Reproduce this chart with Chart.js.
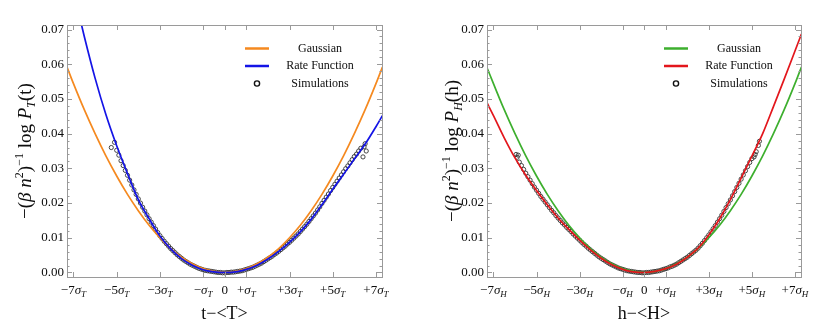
<!DOCTYPE html>
<html>
<head>
<meta charset="utf-8">
<script src="https://cdn.jsdelivr.net/npm/chart.js@4.4.1/dist/chart.umd.min.js"></script>
<style>
  body { margin: 0; background: #fff; width: 822px; height: 329px; overflow: hidden; }
  .box { position: absolute; top: 0; width: 411px; height: 329px; }
</style>
</head>
<body>
<div class="box" style="left:0"><canvas id="chartT" width="411" height="329"></canvas></div>
<div class="box" style="left:411px"><canvas id="chartH" width="411" height="329"></canvas></div>
<script>
// x in units of sigma
const curveX = [-7.3, -7, -6.5, -6, -5.5, -5, -4.5, -4, -3.5, -3, -2.5, -2, -1.5, -1, -0.5, 0,
                0.5, 1, 1.5, 2, 2.5, 3, 3.5, 4, 4.5, 5, 5.5, 6, 6.5, 7, 7.3];

const gaussT = [0.0592, 0.0544, 0.0469, 0.0400, 0.0336, 0.0278, 0.0225, 0.0178, 0.0136, 0.0100, 0.0069, 0.0044, 0.0025, 0.0011, 0.0003, 0,
                0.0003, 0.0011, 0.0025, 0.0044, 0.0069, 0.0100, 0.0136, 0.0178, 0.0225, 0.0278, 0.0336, 0.0400, 0.0469, 0.0544, 0.0592];
const rateT  = [0.0890, 0.0810, 0.0680, 0.0560, 0.0455, 0.0365, 0.0285, 0.0210, 0.0155, 0.0105, 0.0068, 0.0040, 0.0021, 0.0008, 0.0002, 0,
                0.0002, 0.0009, 0.0021, 0.0039, 0.0061, 0.0087, 0.0117, 0.0153, 0.0195, 0.0240, 0.0283, 0.0327, 0.0370, 0.0420, 0.0452];

const gaussH = [0.0590, 0.0544, 0.0469, 0.0400, 0.0336, 0.0278, 0.0225, 0.0178, 0.0136, 0.0100, 0.0069, 0.0044, 0.0025, 0.0011, 0.0003, 0,
                0.0003, 0.0011, 0.0025, 0.0044, 0.0069, 0.0100, 0.0136, 0.0178, 0.0225, 0.0278, 0.0336, 0.0400, 0.0469, 0.0544, 0.0592];
const rateH  = [0.0489, 0.0452, 0.0388, 0.0330, 0.0280, 0.0236, 0.0195, 0.0157, 0.0124, 0.0093, 0.0065, 0.0041, 0.0022, 0.0009, 0.0002, 0,
                0.0003, 0.0011, 0.0024, 0.0044, 0.0070, 0.0108, 0.0155, 0.0210, 0.0272, 0.0335, 0.0400, 0.0478, 0.0557, 0.0638, 0.0687];

// simulation points, left panel
const simTX = [-5.25, -5.1, -5.0, -4.9, -4.8, -4.7, -4.6, -4.5, -4.4, -4.3, -4.2, -4.1, -4.0, -3.9, -3.8, -3.7, -3.6, -3.5, -3.4, -3.3, -3.2, -3.1,
               -3.0, -2.9, -2.8, -2.7, -2.6, -2.5, -2.4, -2.3, -2.2, -2.1, -2.0, -1.9, -1.8, -1.7, -1.6, -1.5, -1.4, -1.3, -1.2, -1.1,
               -1.0, -0.9, -0.8, -0.7, -0.6, -0.5, -0.4, -0.3, -0.2, -0.1, 0.0, 0.1, 0.2, 0.3, 0.4, 0.5, 0.6, 0.7, 0.8, 0.9,
               1.0, 1.1, 1.2, 1.3, 1.4, 1.5, 1.6, 1.7, 1.8, 1.9, 2.0, 2.1, 2.2, 2.3, 2.4, 2.5, 2.6, 2.7, 2.8, 2.9,
               3.0, 3.1, 3.2, 3.3, 3.4, 3.5, 3.6, 3.7, 3.8, 3.9, 4.0, 4.1, 4.2, 4.3, 4.4, 4.5, 4.6, 4.7, 4.8, 4.9,
               5.0, 5.1, 5.2, 5.3, 5.4, 5.5, 5.6, 5.7, 5.8, 5.9, 6.0, 6.1, 6.2, 6.3, 6.4, 6.45, 6.5, 6.55];
const simTY = [0.0360, 0.0375, 0.0352, 0.0338, 0.0322, 0.0308, 0.0294, 0.0280, 0.0266, 0.0252, 0.0238, 0.0225, 0.0212, 0.0200, 0.0188, 0.0177, 0.0166, 0.0155, 0.0145, 0.0135, 0.0125, 0.0115,
               0.0106, 0.0098, 0.0090, 0.0083, 0.0076, 0.0069, 0.0063, 0.0057, 0.0051, 0.0046, 0.0041, 0.0036, 0.0032, 0.0028, 0.0024, 0.0021, 0.0018, 0.0015, 0.0012, 0.0010,
               0.0008, 0.0006, 0.0005, 0.0004, 0.0003, 0.0002, 0.0001, 0.0000, 0.0000, -0.0001, -0.0001, 0.0000, 0.0000, 0.0001, 0.0001, 0.0002, 0.0003, 0.0004, 0.0005, 0.0007,
               0.0009, 0.0011, 0.0013, 0.0015, 0.0018, 0.0021, 0.0024, 0.0027, 0.0031, 0.0035, 0.0039, 0.0043, 0.0047, 0.0052, 0.0056, 0.0061, 0.0066, 0.0071, 0.0076, 0.0082,
               0.0087, 0.0093, 0.0099, 0.0105, 0.0111, 0.0118, 0.0125, 0.0132, 0.0139, 0.0147, 0.0155, 0.0163, 0.0171, 0.0180, 0.0189, 0.0199, 0.0208, 0.0217, 0.0226, 0.0236,
               0.0245, 0.0254, 0.0263, 0.0272, 0.0281, 0.0290, 0.0299, 0.0307, 0.0316, 0.0325, 0.0334, 0.0341, 0.0350, 0.0358, 0.0333, 0.0362, 0.0371, 0.0350];

// simulation points, right panel
const simHX = [-5.95, -5.9, -5.85, -5.8, -5.7, -5.6, -5.5, -5.4, -5.3, -5.2, -5.1, -5.0, -4.9, -4.8, -4.7, -4.6, -4.5, -4.4, -4.3, -4.2, -4.1,
               -4.0, -3.9, -3.8, -3.7, -3.6, -3.5, -3.4, -3.3, -3.2, -3.1, -3.0, -2.9, -2.8, -2.7, -2.6, -2.5, -2.4, -2.3, -2.2, -2.1,
               -2.0, -1.9, -1.8, -1.7, -1.6, -1.5, -1.4, -1.3, -1.2, -1.1, -1.0, -0.9, -0.8, -0.7, -0.6, -0.5, -0.4, -0.3, -0.2, -0.1,
               0.0, 0.1, 0.2, 0.3, 0.4, 0.5, 0.6, 0.7, 0.8, 0.9, 1.0, 1.1, 1.2, 1.3, 1.4, 1.5, 1.6, 1.7, 1.8, 1.9,
               2.0, 2.1, 2.2, 2.3, 2.4, 2.5, 2.6, 2.7, 2.8, 2.9, 3.0, 3.1, 3.2, 3.3, 3.4, 3.5, 3.6, 3.7, 3.8, 3.9,
               4.0, 4.1, 4.2, 4.3, 4.4, 4.5, 4.6, 4.7, 4.8, 4.9, 5.0, 5.1, 5.15, 5.2, 5.3, 5.35];
const simHY = [0.0340, 0.0332, 0.0338, 0.0318, 0.0308, 0.0297, 0.0286, 0.0276, 0.0266, 0.0256, 0.0246, 0.0237, 0.0228, 0.0219, 0.0211, 0.0203, 0.0195, 0.0187, 0.0179, 0.0172, 0.0164,
               0.0157, 0.0150, 0.0143, 0.0137, 0.0130, 0.0124, 0.0118, 0.0111, 0.0105, 0.0099, 0.0093, 0.0087, 0.0081, 0.0076, 0.0070, 0.0065, 0.0060, 0.0055, 0.0050, 0.0045,
               0.0041, 0.0037, 0.0033, 0.0029, 0.0025, 0.0022, 0.0019, 0.0016, 0.0013, 0.0011, 0.0009, 0.0007, 0.0005, 0.0004, 0.0003, 0.0002, 0.0001, 0.0000, 0.0000, -0.0001,
               -0.0001, 0.0000, 0.0000, 0.0001, 0.0002, 0.0003, 0.0004, 0.0005, 0.0007, 0.0009, 0.0011, 0.0013, 0.0016, 0.0018, 0.0021, 0.0024, 0.0028, 0.0032, 0.0036, 0.0040,
               0.0044, 0.0049, 0.0054, 0.0059, 0.0064, 0.0070, 0.0077, 0.0084, 0.0092, 0.0100, 0.0108, 0.0117, 0.0126, 0.0135, 0.0145, 0.0155, 0.0165, 0.0176, 0.0187, 0.0198,
               0.0209, 0.0221, 0.0233, 0.0245, 0.0257, 0.0269, 0.0281, 0.0293, 0.0305, 0.0317, 0.0328, 0.0333, 0.0340, 0.0348, 0.0366, 0.0378];

const xTickVals = [-7, -5, -3, -1, 0, 1, 3, 5, 7];
const xTickText = ['−7σ', '−5σ', '−3σ', '−σ', '0', '+σ', '+3σ', '+5σ', '+7σ'];
const yTickVals = [0, 0.01, 0.02, 0.03, 0.04, 0.05, 0.06, 0.07];

const serif = '"Liberation Serif", "DejaVu Serif", serif';
const ink = '#0d0d0d';

function font(size, italic) {
  return (italic ? 'italic ' : '') + size + 'px ' + serif;
}

// runs: [text, size, italic, dy]
function drawRuns(ctx, runs, x, y) {
  let w = 0;
  runs.forEach(r => { ctx.font = font(r[1], r[2]); w += ctx.measureText(r[0]).width; });
  let cx = x - w / 2;
  ctx.textAlign = 'left';
  runs.forEach(r => {
    ctx.font = font(r[1], r[2]);
    ctx.fillText(r[0], cx, y + (r[3] || 0));
    cx += ctx.measureText(r[0]).width;
  });
}

const framePlugin = {
  id: 'frame',
  afterDraw(chart) {
    const o = chart.options.plugins.frame;
    const ctx = chart.ctx;
    const a = chart.chartArea;
    const xs = chart.scales.x, ys = chart.scales.y;
    ctx.save();
    ctx.strokeStyle = '#9a9a9a';
    ctx.lineWidth = 1;
    ctx.strokeRect(Math.round(a.left) + 0.5, Math.round(a.top) + 0.5,
                   Math.round(a.right - a.left), Math.round(a.bottom - a.top));
    ctx.beginPath();
    // x ticks, bottom and top
    xTickVals.forEach(v => {
      const px = Math.round(xs.getPixelForValue(v)) + 0.5;
      ctx.moveTo(px, a.bottom); ctx.lineTo(px, a.bottom - 5);
      ctx.moveTo(px, a.top); ctx.lineTo(px, a.top + 5);
    });
    // y ticks, major and minor, left and right
    for (let k = 0; k <= 35; k++) {
      const v = k * 0.002;
      const len = (k % 5 === 0) ? 5 : 2.5;
      const py = Math.round(ys.getPixelForValue(v)) + 0.5;
      ctx.moveTo(a.left, py); ctx.lineTo(a.left + len, py);
      ctx.moveTo(a.right, py); ctx.lineTo(a.right - len, py);
    }
    ctx.stroke();

    // x tick labels with subscripts
    ctx.fillStyle = ink;
    ctx.textBaseline = 'alphabetic';
    xTickVals.forEach((v, i) => {
      const px = xs.getPixelForValue(v);
      const t = xTickText[i];
      const runs = [];
      if (t === '0') {
        runs.push(['0', 13, false, 0]);
      } else {
        const head = t.slice(0, -1);
        runs.push([head, 13, false, 0]);
        runs.push(['σ', 13, true, 0]);
        runs.push([o.sub, 9, true, 3]);
      }
      drawRuns(ctx, runs, px, a.bottom + 17);
    });

    // x axis title
    ctx.font = font(18, false);
    ctx.textAlign = 'center';
    ctx.fillText(o.xTitle, (a.left + a.right) / 2, a.bottom + 42);

    // y axis title, rotated
    ctx.save();
    ctx.translate(o.yTitleX, (a.top + a.bottom) / 2);
    ctx.rotate(-Math.PI / 2);
    drawRuns(ctx, [
      ['−(', 19, false, 0], ['β', 19, true, 0], [' ', 19, false, 0], ['n', 19, true, 0],
      ['2', 12, false, -8], [')', 19, false, 0], ['−1', 12, false, -8],
      [' log ', 19, false, 0], ['P', 19, true, 0], [o.sub, 12, true, 4], ['(' + o.arg + ')', 19, false, 0]
    ], 0, 7);
    ctx.restore();

    // legend
    const ds = chart.data.datasets;
    const order = [1, 0, 2];
    order.forEach((di, row) => {
      const d = ds[di];
      const y = a.top + 23.5 + row * 17.5;
      const x0 = a.right - 137, x1 = a.right - 113;
      if (d.showLine) {
        ctx.strokeStyle = d.borderColor;
        ctx.lineWidth = 2.5;
        ctx.beginPath(); ctx.moveTo(x0, y); ctx.lineTo(x1, y); ctx.stroke();
      } else {
        ctx.strokeStyle = '#111';
        ctx.lineWidth = 1.4;
        ctx.beginPath(); ctx.arc((x0 + x1) / 2, y, 2.6, 0, Math.PI * 2); ctx.stroke();
      }
      ctx.fillStyle = ink;
      ctx.font = font(12, false);
      ctx.textAlign = 'center';
      ctx.textBaseline = 'middle';
      ctx.fillText(d.label, a.right - 62, y);
      ctx.textBaseline = 'alphabetic';
    });
    ctx.restore();
  }
};

function makeChart(id, cfg) {
  const line = (label, ys, color) => ({
    label: label,
    data: curveX.map((x, i) => ({ x: x, y: ys[i] })),
    showLine: true,
    borderColor: color,
    borderWidth: 1.7,
    pointRadius: 0,
    cubicInterpolationMode: 'monotone',
    clip: 0
  });
  new Chart(document.getElementById(id), {
    type: 'scatter',
    data: {
      datasets: [
        line('Rate Function', cfg.rate, cfg.rateColor),
        line('Gaussian', cfg.gauss, cfg.gaussColor),
        {
          label: 'Simulations',
          data: cfg.simX.map((x, i) => ({ x: x, y: cfg.simY[i] })),
          showLine: false,
          pointRadius: 2.1,
          pointBorderWidth: 0.9,
          pointBorderColor: '#333333',
          pointBackgroundColor: 'rgba(0,0,0,0)',
          pointHoverRadius: 0
        }
      ]
    },
    options: {
      responsive: false,
      animation: false,
      devicePixelRatio: 1,
      layout: { padding: { left: 0, right: cfg.padRight, top: 25, bottom: 0 } },
      scales: {
        x: {
          type: 'linear', min: -7.3, max: 7.28,
          ticks: { display: false },
          grid: { display: false, drawTicks: false },
          border: { display: false },
          afterFit: s => { s.height = 52; }
        },
        y: {
          type: 'linear', min: -0.0013, max: 0.0713,
          afterBuildTicks: s => { s.ticks = yTickVals.map(v => ({ value: v })); },
          ticks: {
            padding: 3,
            color: ink,
            font: { family: serif, size: 13 },
            callback: v => v.toFixed(2)
          },
          grid: { display: false, drawTicks: false },
          border: { display: false },
          afterFit: s => { s.width = cfg.axisWidth; }
        }
      },
      plugins: {
        legend: { display: false },
        tooltip: { enabled: false },
        frame: { sub: cfg.sub, arg: cfg.arg, xTitle: cfg.xTitle, yTitleX: cfg.yTitleX }
      }
    },
    plugins: [framePlugin]
  });
}

makeChart('chartT', {
  rate: rateT, gauss: gaussT, simX: simTX, simY: simTY,
  rateColor: '#1414e6', gaussColor: '#f5891f',
  sub: 'T', arg: 't', xTitle: 't−<T>',
  axisWidth: 67, padRight: 29, yTitleX: 24
});
makeChart('chartH', {
  rate: rateH, gauss: gaussH, simX: simHX, simY: simHY,
  rateColor: '#e3161c', gaussColor: '#3daf2e',
  sub: 'H', arg: 'h', xTitle: 'h−<H>',
  axisWidth: 76, padRight: 21, yTitleX: 40
});
</script>
</body>
</html>
